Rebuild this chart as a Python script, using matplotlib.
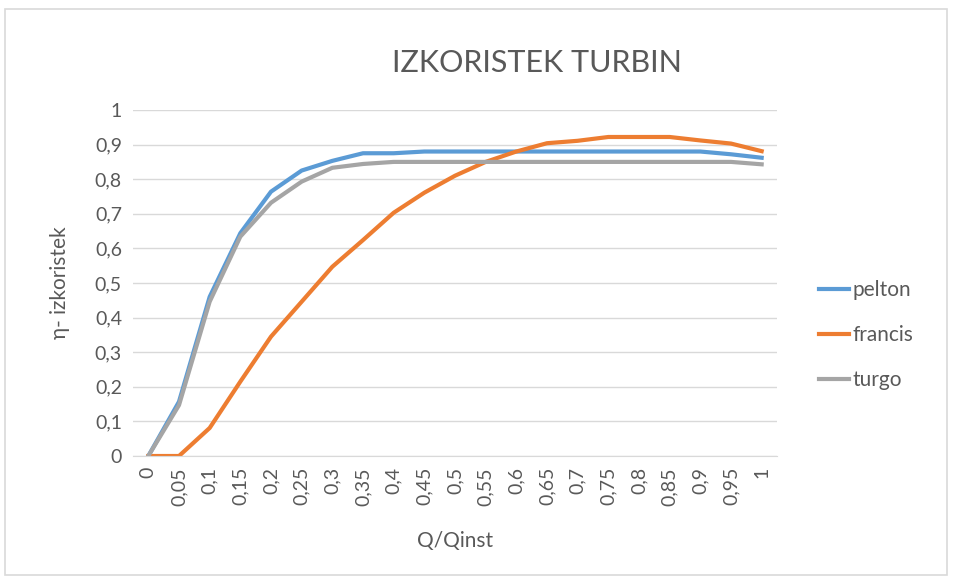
import matplotlib.pyplot as plt
import matplotlib.patches as patches
import numpy as np

plt.rcParams['font.family'] = ['Lato', 'DejaVu Sans']

# datuak
q_labels = ['0', '0,05', '0,1', '0,15', '0,2', '0,25', '0,3', '0,35', '0,4', '0,45', '0,5',
            '0,55', '0,6', '0,65', '0,7', '0,75', '0,8', '0,85', '0,9', '0,95', '1']
pelton = [0, 0.157, 0.46, 0.644, 0.764, 0.825, 0.853, 0.875, 0.875, 0.88, 0.88,
          0.88, 0.88, 0.88, 0.88, 0.88, 0.88, 0.88, 0.88, 0.872, 0.862]
francis = [0, 0, 0.081, 0.215, 0.345, 0.446, 0.547, 0.624, 0.703, 0.761, 0.81,
           0.85, 0.88, 0.904, 0.911, 0.922, 0.922, 0.922, 0.912, 0.903, 0.881]
turgo = [0, 0.147, 0.446, 0.634, 0.732, 0.793, 0.833, 0.844, 0.85, 0.85, 0.85,
         0.85, 0.85, 0.85, 0.85, 0.85, 0.85, 0.85, 0.85, 0.85, 0.843]
yticks = np.arange(0, 1.01, 0.1)

W, H = 956, 581
fig = plt.figure(figsize=(W/100, H/100), dpi=100)
# ertza
fig.patches.append(patches.Rectangle((5/W, 6/H), 942/W, 566/H, transform=fig.transFigure,
                                     fill=False, edgecolor='#d9d9d9', linewidth=1.2))
ax = fig.add_axes([133/W, 1-456/H, (777-133)/W, (456-110)/H])

x = np.arange(len(q_labels))
ax.plot(x, pelton, color='#5b9bd5', lw=3, label='pelton', solid_joinstyle='round')
ax.plot(x, francis, color='#ed7d31', lw=3, label='francis', solid_joinstyle='round')
ax.plot(x, turgo, color='#a5a5a5', lw=3, label='turgo', solid_joinstyle='round')

ax.set_xlim(-0.5, len(q_labels)-0.5)
ax.set_ylim(0, 1)
ax.set_yticks(yticks)
ax.set_yticklabels([('%.1f' % v).replace('.', ',').replace(',0', '') if v not in (0,) else '0' for v in yticks])
ax.set_xticks(x)
ax.set_xticklabels(q_labels, rotation=90)
ax.tick_params(length=0, labelsize=14, colors='#595959', pad=8)
ax.grid(axis='y', color='#d9d9d9', lw=1)
ax.set_axisbelow(True)
for s in ['top', 'right', 'left']:
    ax.spines[s].set_visible(False)
ax.spines['bottom'].set_color('#d9d9d9')

ax.set_xlabel('Q/Qinst', fontsize=15, color='#595959', labelpad=18)
ax.set_ylabel('η- izkoristek', fontsize=15, color='#595959', labelpad=18)
fig.text(537/W, 1-63/H, 'IZKORISTEK TURBIN', ha='center', va='center', fontsize=22, color='#595959')

fig.legend(loc='center left', bbox_to_anchor=(800/W, 1-335/H), frameon=False, fontsize=15,
           labelcolor='#595959', handlelength=1.45, labelspacing=1.2, handletextpad=0.15)

fig.savefig('out.png', dpi=100)
